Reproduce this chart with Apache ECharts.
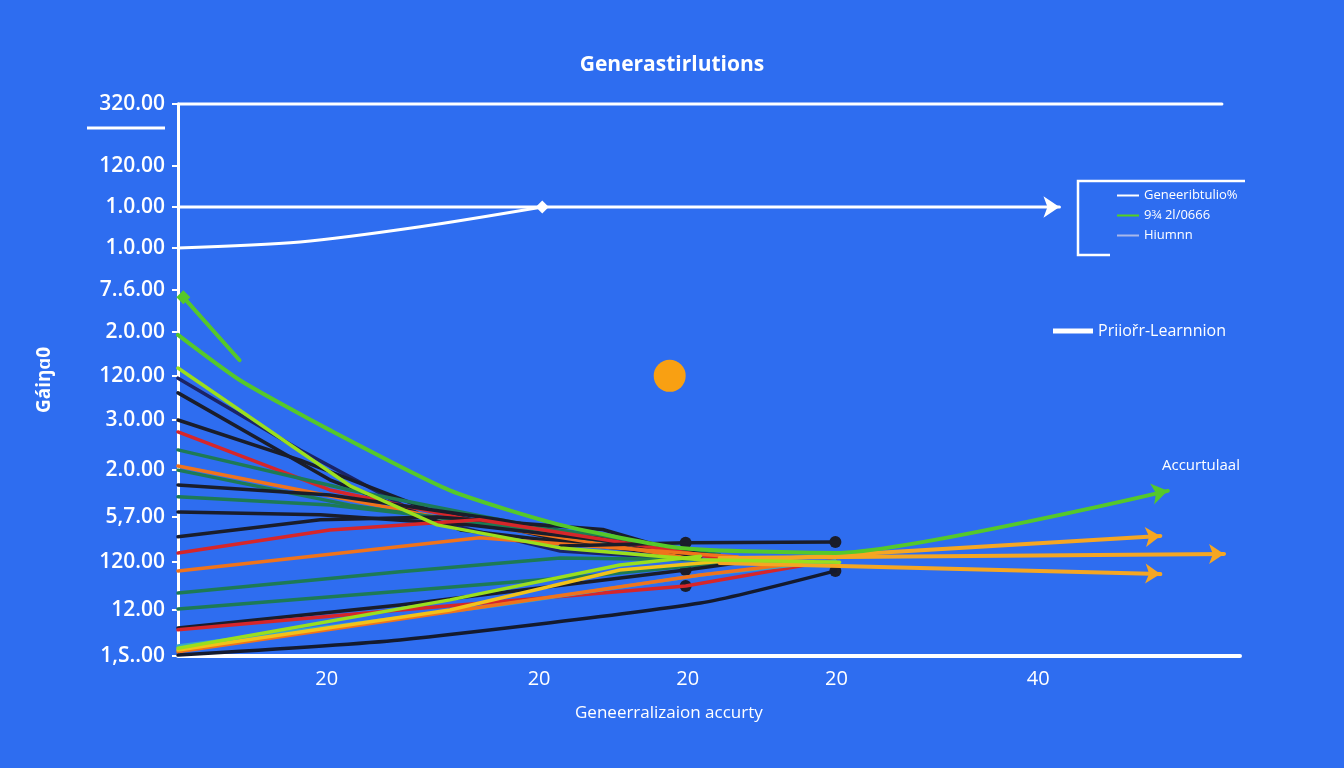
<!DOCTYPE html>
<html lang="en">
<head>
    <meta charset="UTF-8">
    <title>Generastirlutions</title>
    <script src="https://cdn.jsdelivr.net/npm/echarts@6.0.0/dist/echarts.min.js"></script>
    <style>
        html, body {
            margin: 0;
            padding: 0;
            background-color: #2e6df0;
        }
        #chart {
            width: 1344px;
            height: 768px;
        }
    </style>
</head>
<body>
<div id="chart"></div>
<script>
    // axis ticks
    const xTickValues = [14, 34, 48, 62, 81];
    const xTickLabels = ['20', '20', '20', '20', '40'];
    const yTickValues = [0, 10, 20.4, 30.2, 40.4, 51.3, 60.9, 70.4, 79.6, 88.7, 97.6, 106.5, 120];
    const yTickLabels = ['1,S..00', '12.00', '120.00', '5,7.00', '2.0.00', '3.0.00', '120.00',
        '2.0.00', '7..6.00', '1.0.00', '1.0.00', '120.00', '320.00'];

    // white lines
    const whiteTop = [[0, 120], [98.3, 120]];
    const priorLine = [[0, 97.6], [83, 97.6]];
    const whiteCurve = [[0, 88.7], [11.5, 90.0], [22.8, 93.3], [34.3, 97.6]];

    // descending bundle
    const greenShort = [[0.5, 78.0], [5.8, 64.3]];
    const greenLong = [[0, 69.8], [5.8, 60.0], [14.3, 49.1], [25.6, 36.0], [36, 28.5], [47.3, 23.5], [61.9, 22.4], [93.2, 35.9]];
    const yellowGreenA = [[0, 62.6], [16.2, 37], [24.4, 28.5], [36, 23.5], [49.2, 20.9], [62.3, 20.4]];
    const navyA = [[0, 60.4], [11.5, 44.8], [23.7, 29.6], [36, 22.8], [49.2, 20.9]];
    const blackA = [[0, 57.2], [14.3, 38.3], [26.6, 27.4], [49.2, 21.3]];
    const blackB = [[0, 51.3], [11.5, 42.6], [23.7, 31.7], [36, 25.2], [49.2, 21.7]];
    const redA = [[0, 48.7], [14.3, 36.1], [27.5, 29.6], [39.7, 25.2], [51, 21.3]];
    const greenDarkA = [[0, 44.8], [16.2, 36.1], [30.3, 29.6], [49.2, 22]];
    const orangeA = [[0, 41.3], [11.5, 36.1], [25.6, 29.6], [49.2, 20.9]];
    const greenDarkB = [[0, 40.4], [16.2, 32.8], [36, 26.3], [51, 21.7]];
    const blackC = [[0, 37.2], [14.3, 35], [30.3, 29.6], [49.2, 21.5]];
    const greenDarkC = [[0, 34.6], [14.3, 32.8], [39.7, 26.3], [51, 22]];
    const blackD = [[0, 31.3], [13.4, 30.7], [27.5, 28.5], [39.7, 25.2], [51, 21.7]];
    const blackE = [[0, 25.9], [13.4, 29.6], [24.4, 30.2], [40, 27.5], [49.2, 21.3]];
    const redB = [[0, 22.4], [14.3, 27.4], [28.4, 29.6], [51, 21.3]];

    // rising bundle
    const orangeB = [[0, 18.5], [28.4, 25.7], [52.7, 21.5]];
    const greenDarkD = [[0, 13.7], [20.9, 18.3], [36, 21.3], [49.2, 20.9]];
    const greenDarkE = [[0, 10.2], [20.9, 14.1], [39.7, 17.6], [53.9, 20.9]];
    const blackF = [[0, 6.1], [20.9, 11.1], [47.8, 18.7], [55, 21]];
    const redC = [[0, 5.7], [20.9, 10], [47.8, 15.2], [61.9, 20.9]];
    const cyanA = [[0, 2.2], [30.3, 11.1], [49.2, 17.6], [61.9, 20.7]];
    const orangeC = [[0, 0.9], [25.6, 9.6], [49.2, 17.6], [58.6, 20.2]];
    const yellowA = [[0, 1.3], [25.6, 10], [41.6, 18.7], [54.8, 21.3]];
    const yellowGreenB = [[0, 1.7], [25.6, 12.2], [41.6, 19.8], [49.2, 21.7]];
    const blackBottom = [[0, 0.2], [20.9, 3.5], [49.2, 11.5], [61.9, 18.5]];
    const blackTop = [[36, 23.9], [47.8, 24.6], [61.9, 24.8]];

    // right side arrows
    const orangeUp = [[51, 20.4], [92.5, 26.1]];
    const orangeMid = [[51, 21.3], [98.5, 22.2]];
    const orangeDown = [[51, 20.2], [92.5, 17.8]];

    const blackDots = [[47.8, 24.6], [61.9, 24.8], [47.8, 18.7], [47.8, 15.2], [61.9, 18.5]];
    const orangeDot = [[46.3, 60.9]];

    const chart = echarts.init(document.getElementById('chart'));

    // turn a point list into line data, with an optional marker on the first/last point
    function withEnd(points, endSymbol, rotate, size, atStart) {
        return points.map((p, i) => {
            const hit = atStart ? i === 0 : i === points.length - 1;
            if (!hit || !endSymbol) return p;
            return { value: p, symbol: endSymbol, symbolRotate: rotate, symbolSize: size };
        });
    }

    function line(name, data, color, width, extra) {
        return Object.assign({
            name: name,
            type: 'line',
            data: data,
            symbol: 'none',
            clip: false,
            silent: true,
            animation: false,
            lineStyle: { color: color, width: width, cap: 'round', join: 'round' },
            itemStyle: { color: color }
        }, extra || {});
    }

    const series = [
        line('top', whiteTop, '#ffffff', 3),
        line('Priiořr-Learnnion', withEnd(priorLine, 'arrow', -90, 16), '#ffffff', 3),
        line('Geneeribtulio%', withEnd(whiteCurve, 'diamond', 0, 13), '#ffffff', 3, { smooth: 0.3 }),

        line('navyA', navyA, '#1b2466', 3.5),
        line('blackA', blackA, '#1a1d2b', 3.5),
        line('blackB', blackB, '#1a1d2b', 3.5),
        line('redA', redA, '#d6262a', 3.5),
        line('greenDarkA', greenDarkA, '#1d7a55', 3.5),
        line('orangeA', orangeA, '#f0731c', 3.5),
        line('greenDarkB', greenDarkB, '#1d7a55', 3.5),
        line('blackC', blackC, '#1a1d2b', 3.5),
        line('greenDarkC', greenDarkC, '#1d7a55', 3.5),
        line('blackD', blackD, '#1a1d2b', 3.5),
        line('blackE', blackE, '#1a1d2b', 3.5),
        line('redB', redB, '#d6262a', 3.5),

        line('orangeB', orangeB, '#f0731c', 3.5),
        line('greenDarkD', greenDarkD, '#1d7a55', 3.5),
        line('greenDarkE', greenDarkE, '#1d7a55', 3.5),
        line('blackF', blackF, '#1a1d2b', 3.5),
        line('redC', redC, '#d6262a', 3.5),
        line('Hiumnn', cyanA, '#38a8c8', 3.5),
        line('orangeC', orangeC, '#f0731c', 3.5),
        line('blackBottom', blackBottom, '#141a2e', 3.5, { smooth: 0.2 }),
        line('blackTop', blackTop, '#1a1d2b', 3.5),
        line('yellowA', yellowA, '#f2c21a', 3.5),
        line('yellowGreenB', yellowGreenB, '#9adf1e', 3.5),

        line('orangeUp', withEnd(orangeUp, 'arrow', -86, 15), '#f5a623', 4),
        line('orangeMid', withEnd(orangeMid, 'arrow', -90, 15), '#f5a623', 4),
        line('orangeDown', withEnd(orangeDown, 'arrow', -92, 15), '#f5a623', 4),

        line('yellowGreenA', yellowGreenA, '#9adf1e', 3.5),
        line('9¾ 2l/0666', withEnd(greenLong, 'arrow', -79, 16), '#55c82a', 4, { smooth: 0.2 }),
        line('greenShort', withEnd(greenShort, 'diamond', 0, 14, true), '#55c82a', 4),

        {
            type: 'scatter',
            data: blackDots,
            symbolSize: 12,
            itemStyle: { color: '#1a1d2b', opacity: 1 },
            silent: true,
            animation: false
        },
        {
            type: 'scatter',
            data: orangeDot,
            symbolSize: 32,
            itemStyle: { color: '#f9a012', opacity: 1 },
            silent: true,
            animation: false
        }
    ];

    const option = {
        backgroundColor: '#2e6df0',
        textStyle: { fontFamily: 'Open Sans, sans-serif' },
        title: {
            text: 'Generastirlutions',
            left: 'center',
            top: 50,
            textStyle: { color: '#ffffff', fontSize: 21, fontWeight: 'bold', fontFamily: 'Open Sans' }
        },
        legend: [
            {
                orient: 'vertical',
                left: 1112,
                top: 184,
                itemGap: 7,
                itemWidth: 22,
                itemHeight: 2,
                icon: 'rect',
                selectedMode: false,
                textStyle: { color: '#ffffff', fontSize: 13 },
                data: [
                    { name: 'Geneeribtulio%', itemStyle: { color: '#ffffff' } },
                    { name: '9¾ 2l/0666', itemStyle: { color: '#55d21e' } },
                    { name: 'Hiumnn', itemStyle: { color: '#a8b8ea' } }
                ]
            },
            {
                left: 1048,
                top: 318,
                itemWidth: 40,
                itemHeight: 5,
                icon: 'rect',
                selectedMode: false,
                textStyle: { color: '#ffffff', fontSize: 16 },
                data: [{ name: 'Priiořr-Learnnion', itemStyle: { color: '#ffffff' } }]
            }
        ],
        grid: { left: 178, right: 104, top: 104, bottom: 112 },
        xAxis: {
            type: 'value',
            min: 0,
            max: 100,
            axisLine: { lineStyle: { color: '#ffffff', width: 4 } },
            axisTick: { show: false },
            splitLine: { show: false },
            axisLabel: {
                customValues: xTickValues,
                formatter: v => xTickLabels[xTickValues.indexOf(v)],
                color: '#ffffff',
                fontSize: 20,
                margin: 13
            }
        },
        yAxis: {
            type: 'value',
            min: 0,
            max: 120,
            name: 'Gáiŋɑ0',
            nameLocation: 'middle',
            nameRotate: 90,
            nameGap: 124,
            nameTextStyle: { color: '#ffffff', fontSize: 19, fontWeight: 'bold' },
            axisLine: { show: true, lineStyle: { color: '#ffffff', width: 3 } },
            axisTick: { show: true, customValues: yTickValues, length: 6, lineStyle: { color: '#ffffff', width: 2 } },
            splitLine: { show: false },
            axisLabel: {
                customValues: yTickValues,
                formatter: v => yTickLabels[yTickValues.indexOf(v)],
                color: '#ffffff',
                fontSize: 21,
                fontWeight: 600,
                margin: 13
            }
        },
        graphic: [
            { type: 'line', shape: { x1: 87, y1: 128, x2: 165, y2: 128 }, style: { stroke: '#ffffff', lineWidth: 3 } },
            {
                type: 'polyline',
                shape: { points: [[1245, 181], [1078, 181], [1078, 255], [1110, 255]] },
                style: { stroke: '#ffffff', lineWidth: 2.5, fill: null }
            },
            {
                type: 'text', left: 1162, top: 458,
                style: { text: 'Accurtulaal', fill: '#ffffff', font: '15px Open Sans' }
            },
            {
                type: 'text', left: 575, top: 705,
                style: { text: 'Geneerralizaion accurty', fill: '#ffffff', font: '17px Open Sans' }
            }
        ],
        series: series
    };

    chart.setOption(option);
</script>
</body>
</html>
